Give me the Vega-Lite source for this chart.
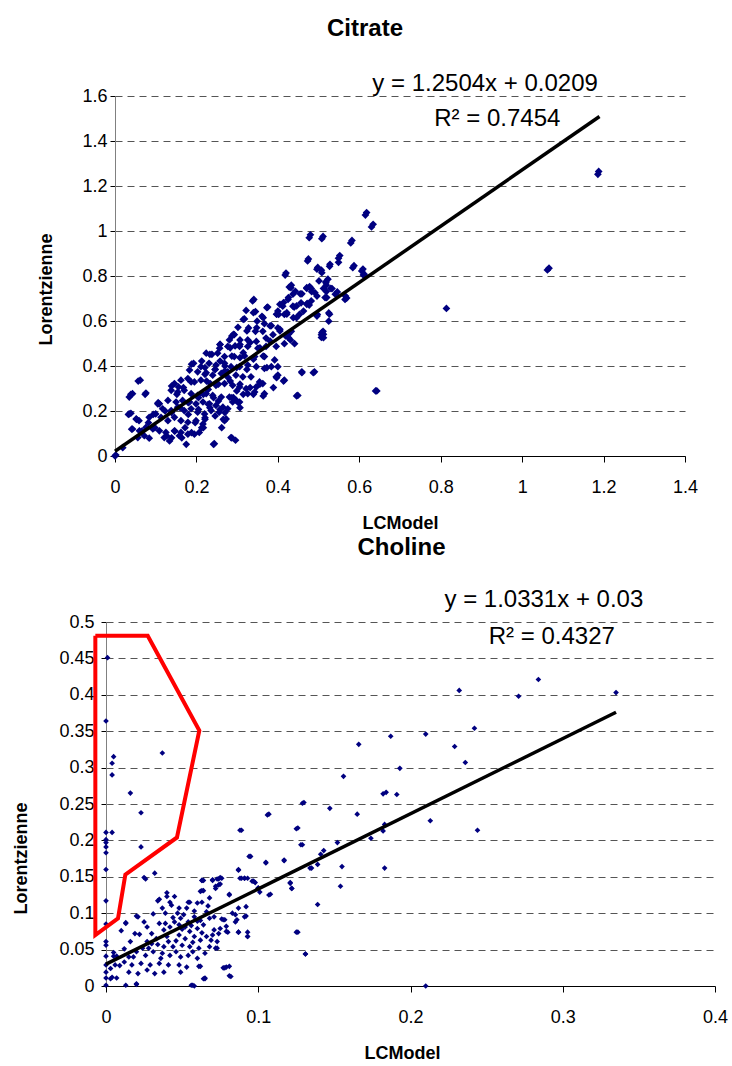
{
"$schema": "https://vega.github.io/schema/vega-lite/v6.json",
"padding": {"left": 10, "top": 17, "right": 5, "bottom": 0},
"background": "white",
"datasets": {
"citrate": [
{"x":0.618,"y":1.082},{"x":0.634,"y":1.030},{"x":0.480,"y":0.983},{"x":0.511,"y":0.976},{"x":0.582,"y":0.958},{"x":0.475,"y":0.876},{"x":0.420,"y":0.813},{"x":0.552,"y":0.891},{"x":0.549,"y":0.861},{"x":0.528,"y":0.852},{"x":0.498,"y":0.838},{"x":0.507,"y":0.826},{"x":0.587,"y":0.846},{"x":0.609,"y":0.831},{"x":0.612,"y":0.808},{"x":0.478,"y":0.753},{"x":0.482,"y":0.744},{"x":0.519,"y":0.759},{"x":0.533,"y":0.744},{"x":0.546,"y":0.729},{"x":0.519,"y":0.731},{"x":0.566,"y":0.711},{"x":0.569,"y":0.702},{"x":0.501,"y":0.778},{"x":0.523,"y":0.786},{"x":0.472,"y":0.678},{"x":0.482,"y":0.689},{"x":0.433,"y":0.759},{"x":0.443,"y":0.732},{"x":0.425,"y":0.696},{"x":0.437,"y":0.666},{"x":0.412,"y":0.666},{"x":0.457,"y":0.681},{"x":0.400,"y":0.644},{"x":0.416,"y":0.629},{"x":0.453,"y":0.629},{"x":0.525,"y":0.636},{"x":0.497,"y":0.629},{"x":0.525,"y":0.599},{"x":0.507,"y":0.539},{"x":0.511,"y":0.554},{"x":0.507,"y":0.527},{"x":0.341,"y":0.696},{"x":0.375,"y":0.662},{"x":0.322,"y":0.647},{"x":0.345,"y":0.642},{"x":0.402,"y":0.629},{"x":0.384,"y":0.579},{"x":0.361,"y":0.621},{"x":0.318,"y":0.609},{"x":0.349,"y":0.599},{"x":0.367,"y":0.588},{"x":0.302,"y":0.572},{"x":0.328,"y":0.569},{"x":0.345,"y":0.554},{"x":0.363,"y":0.554},{"x":0.400,"y":0.569},{"x":0.433,"y":0.554},{"x":0.419,"y":0.534},{"x":0.431,"y":0.516},{"x":0.416,"y":0.499},{"x":0.441,"y":0.499},{"x":0.388,"y":0.539},{"x":0.371,"y":0.524},{"x":0.293,"y":0.539},{"x":0.281,"y":0.516},{"x":0.307,"y":0.516},{"x":0.326,"y":0.516},{"x":0.347,"y":0.509},{"x":0.257,"y":0.479},{"x":0.277,"y":0.487},{"x":0.306,"y":0.487},{"x":0.326,"y":0.487},{"x":0.351,"y":0.479},{"x":0.371,"y":0.487},{"x":0.396,"y":0.487},{"x":0.224,"y":0.457},{"x":0.252,"y":0.457},{"x":0.269,"y":0.442},{"x":0.293,"y":0.442},{"x":0.318,"y":0.445},{"x":0.343,"y":0.442},{"x":0.367,"y":0.442},{"x":0.392,"y":0.427},{"x":0.384,"y":0.397},{"x":0.400,"y":0.397},{"x":0.396,"y":0.352},{"x":0.400,"y":0.359},{"x":0.416,"y":0.337},{"x":0.459,"y":0.374},{"x":0.490,"y":0.374},{"x":0.449,"y":0.269},{"x":0.643,"y":0.289},{"x":0.193,"y":0.412},{"x":0.211,"y":0.397},{"x":0.231,"y":0.412},{"x":0.248,"y":0.404},{"x":0.269,"y":0.412},{"x":0.285,"y":0.397},{"x":0.306,"y":0.397},{"x":0.326,"y":0.404},{"x":0.347,"y":0.397},{"x":0.367,"y":0.389},{"x":0.183,"y":0.382},{"x":0.203,"y":0.374},{"x":0.224,"y":0.370},{"x":0.240,"y":0.359},{"x":0.261,"y":0.367},{"x":0.277,"y":0.374},{"x":0.297,"y":0.359},{"x":0.314,"y":0.352},{"x":0.334,"y":0.352},{"x":0.355,"y":0.329},{"x":0.347,"y":0.307},{"x":0.363,"y":0.322},{"x":0.146,"y":0.322},{"x":0.162,"y":0.337},{"x":0.179,"y":0.344},{"x":0.195,"y":0.329},{"x":0.211,"y":0.337},{"x":0.234,"y":0.322},{"x":0.248,"y":0.314},{"x":0.269,"y":0.322},{"x":0.289,"y":0.314},{"x":0.306,"y":0.307},{"x":0.322,"y":0.299},{"x":0.326,"y":0.277},{"x":0.343,"y":0.284},{"x":0.367,"y":0.277},{"x":0.138,"y":0.292},{"x":0.154,"y":0.284},{"x":0.170,"y":0.292},{"x":0.187,"y":0.277},{"x":0.203,"y":0.269},{"x":0.224,"y":0.277},{"x":0.240,"y":0.269},{"x":0.261,"y":0.262},{"x":0.281,"y":0.262},{"x":0.298,"y":0.247},{"x":0.289,"y":0.240},{"x":0.306,"y":0.240},{"x":0.130,"y":0.247},{"x":0.150,"y":0.240},{"x":0.166,"y":0.247},{"x":0.183,"y":0.240},{"x":0.199,"y":0.232},{"x":0.216,"y":0.240},{"x":0.232,"y":0.232},{"x":0.248,"y":0.225},{"x":0.265,"y":0.217},{"x":0.277,"y":0.210},{"x":0.105,"y":0.232},{"x":0.117,"y":0.210},{"x":0.138,"y":0.202},{"x":0.154,"y":0.217},{"x":0.170,"y":0.202},{"x":0.187,"y":0.210},{"x":0.203,"y":0.195},{"x":0.220,"y":0.187},{"x":0.236,"y":0.202},{"x":0.256,"y":0.195},{"x":0.273,"y":0.165},{"x":0.269,"y":0.157},{"x":0.035,"y":0.187},{"x":0.052,"y":0.165},{"x":0.059,"y":0.157},{"x":0.084,"y":0.172},{"x":0.100,"y":0.187},{"x":0.113,"y":0.172},{"x":0.130,"y":0.157},{"x":0.146,"y":0.172},{"x":0.162,"y":0.157},{"x":0.179,"y":0.150},{"x":0.199,"y":0.157},{"x":0.216,"y":0.142},{"x":0.043,"y":0.120},{"x":0.060,"y":0.112},{"x":0.076,"y":0.127},{"x":0.093,"y":0.120},{"x":0.109,"y":0.112},{"x":0.125,"y":0.105},{"x":0.146,"y":0.112},{"x":0.162,"y":0.105},{"x":0.179,"y":0.097},{"x":0.195,"y":0.097},{"x":0.207,"y":0.105},{"x":0.056,"y":0.082},{"x":0.072,"y":0.090},{"x":0.084,"y":0.079},{"x":0.121,"y":0.082},{"x":0.134,"y":0.067},{"x":0.158,"y":0.090},{"x":0.175,"y":0.052},{"x":0.244,"y":0.055},{"x":0.285,"y":0.082},{"x":0.296,"y":0.070},{"x":0.019,"y":0.037},{"x":0.002,"y":0.004},{"x":0.0,"y":0.0},{"x":0.035,"y":0.262},{"x":0.043,"y":0.277},{"x":0.039,"y":0.190},{"x":0.062,"y":0.337},{"x":0.076,"y":0.280},{"x":0.109,"y":0.232},{"x":0.156,"y":0.307},{"x":0.187,"y":0.329},
{"x":1.186,"y":1.252},{"x":1.188,"y":1.265},{"x":1.062,"y":0.827},{"x":1.066,"y":0.835},{"x":0.814,"y":0.656},{"x":0.640,"y":0.289},{"x":0.615,"y":1.071},{"x":0.630,"y":1.018},{"x":0.579,"y":0.947},
{"x":0.477,"y":0.970},{"x":0.508,"y":0.966},{"x":0.473,"y":0.867},{"x":0.549,"y":0.879},{"x":0.527,"y":0.843},{"x":0.496,"y":0.830},{"x":0.508,"y":0.815},{"x":0.584,"y":0.837},{"x":0.606,"y":0.822},{"x":0.610,"y":0.804},{"x":0.418,"y":0.804},{"x":0.518,"y":0.775},{"x":0.432,"y":0.748},{"x":0.471,"y":0.745},{"x":0.512,"y":0.745},{"x":0.530,"y":0.745},{"x":0.483,"y":0.730},{"x":0.459,"y":0.721},{"x":0.496,"y":0.711},{"x":0.516,"y":0.704},{"x":0.541,"y":0.719},{"x":0.565,"y":0.696},{"x":0.437,"y":0.719},{"x":0.414,"y":0.682},{"x":0.440,"y":0.662},{"x":0.477,"y":0.671},{"x":0.463,"y":0.644},{"x":0.397,"y":0.630},{"x":0.422,"y":0.630},{"x":0.446,"y":0.615},{"x":0.496,"y":0.622},{"x":0.527,"y":0.630},{"x":0.405,"y":0.563},{"x":0.426,"y":0.541},{"x":0.508,"y":0.548},{"x":0.512,"y":0.526},
{"x":0.057,"y":0.333},{"x":0.039,"y":0.274},{"x":0.074,"y":0.274},{"x":0.106,"y":0.237},{"x":0.033,"y":0.185},{"x":0.053,"y":0.163},{"x":0.041,"y":0.119},{"x":0.066,"y":0.111},{"x":0.082,"y":0.148},{"x":0.098,"y":0.126},{"x":0.094,"y":0.185},{"x":0.123,"y":0.200},{"x":0.139,"y":0.311},{"x":0.152,"y":0.274},{"x":0.168,"y":0.304},{"x":0.188,"y":0.408},{"x":0.213,"y":0.422},{"x":0.238,"y":0.452},{"x":0.258,"y":0.496},{"x":0.287,"y":0.533},{"x":0.295,"y":0.489},{"x":0.307,"y":0.437},{"x":0.221,"y":0.363},{"x":0.246,"y":0.385},{"x":0.270,"y":0.400},{"x":0.278,"y":0.348},{"x":0.254,"y":0.319},{"x":0.229,"y":0.296},{"x":0.205,"y":0.259},{"x":0.180,"y":0.237},{"x":0.160,"y":0.215},{"x":0.139,"y":0.193},{"x":0.180,"y":0.185},{"x":0.205,"y":0.207},{"x":0.229,"y":0.230},{"x":0.254,"y":0.244},{"x":0.287,"y":0.259},{"x":0.270,"y":0.193},{"x":0.246,"y":0.178},{"x":0.221,"y":0.163},{"x":0.197,"y":0.148},{"x":0.172,"y":0.126},{"x":0.147,"y":0.111},{"x":0.127,"y":0.089},{"x":0.164,"y":0.081},{"x":0.188,"y":0.104},{"x":0.213,"y":0.126},{"x":0.242,"y":0.052},{"x":0.287,"y":0.081},{"x":0.299,"y":0.289},{"x":0.307,"y":0.215},{"x":0.262,"y":0.126},{"x":0.139,"y":0.081},
{"x":0.428,"y":0.751},{"x":0.471,"y":0.748},{"x":0.491,"y":0.726},{"x":0.518,"y":0.770},{"x":0.455,"y":0.721},{"x":0.426,"y":0.704},{"x":0.338,"y":0.689},{"x":0.373,"y":0.659},{"x":0.405,"y":0.674},{"x":0.446,"y":0.667},{"x":0.471,"y":0.674},{"x":0.520,"y":0.704},{"x":0.340,"y":0.637},{"x":0.315,"y":0.607},{"x":0.364,"y":0.615},{"x":0.397,"y":0.630},{"x":0.422,"y":0.637},{"x":0.438,"y":0.615},{"x":0.291,"y":0.541},{"x":0.324,"y":0.556},{"x":0.348,"y":0.570},{"x":0.381,"y":0.578},{"x":0.405,"y":0.556},{"x":0.426,"y":0.526},{"x":0.512,"y":0.541},{"x":0.258,"y":0.496},{"x":0.283,"y":0.481},{"x":0.307,"y":0.496},{"x":0.332,"y":0.504},{"x":0.356,"y":0.481},{"x":0.381,"y":0.511},{"x":0.233,"y":0.452},{"x":0.258,"y":0.422},{"x":0.287,"y":0.444},{"x":0.315,"y":0.459},{"x":0.340,"y":0.430},{"x":0.364,"y":0.444},{"x":0.221,"y":0.393},{"x":0.246,"y":0.385},{"x":0.270,"y":0.378},{"x":0.299,"y":0.393},{"x":0.324,"y":0.385},{"x":0.373,"y":0.393},{"x":0.397,"y":0.348},{"x":0.414,"y":0.333},{"x":0.389,"y":0.304},{"x":0.459,"y":0.370},{"x":0.487,"y":0.370},{"x":0.446,"y":0.267},{"x":0.225,"y":0.333},{"x":0.250,"y":0.319},{"x":0.283,"y":0.333},{"x":0.307,"y":0.319},{"x":0.332,"y":0.304},{"x":0.356,"y":0.319},{"x":0.217,"y":0.274},{"x":0.242,"y":0.259},{"x":0.291,"y":0.259},{"x":0.315,"y":0.274},{"x":0.340,"y":0.274},{"x":0.364,"y":0.267},{"x":0.303,"y":0.237},{"x":0.233,"y":0.215},{"x":0.258,"y":0.207},{"x":0.221,"y":0.170},{"x":0.266,"y":0.163},{"x":0.217,"y":0.126}
],
"citrateTrend": [{"x":0,"y":0.0209},{"x":1.19,"y":1.5089}],
"citrateEq": [{"x":0.909,"y":1.653,"label":"y = 1.2504x + 0.0209"},{"x":0.939,"y":1.498,"label":"R² = 0.7454"}],
"choline": [
{"x":0.001,"y":0.451},{"x":0.0,"y":0.364},{"x":0.005,"y":0.315},{"x":0.004,"y":0.306},{"x":0.004,"y":0.290},{"x":0.037,"y":0.320},{"x":0.016,"y":0.265},{"x":0.023,"y":0.238},{"x":0.0,"y":0.211},{"x":0.004,"y":0.211},{"x":0.0,"y":0.201},{"x":0.0,"y":0.197},{"x":0.0,"y":0.191},{"x":0.0,"y":0.183},{"x":0.023,"y":0.191},{"x":0.0,"y":0.160},
{"x":0,"y":0.117},{"x":0,"y":0.085},{"x":0,"y":0.061},{"x":0,"y":0.056},{"x":0,"y":0.041},{"x":0,"y":0.029},{"x":0,"y":0.019},{"x":0,"y":0.011},{"x":0,"y":0.001},{"x":0.026,"y":0.147},{"x":0.032,"y":0.155},{"x":0.013,"y":0.086},{"x":0.010,"y":0.076},{"x":0.005,"y":0.046},{"x":0.005,"y":0.041},{"x":0.006,"y":0.029},{"x":0.003,"y":0.010},{"x":0.013,"y":0.001},{"x":0.020,"y":0.002},{"x":0.056,"y":0.001},{"x":0.021,"y":0.095},{"x":0.035,"y":0.119},{"x":0.040,"y":0.123},{"x":0.045,"y":0.123},{"x":0.054,"y":0.115},{"x":0.063,"y":0.145},{"x":0.063,"y":0.131},{"x":0.070,"y":0.146},{"x":0.074,"y":0.147},{"x":0.075,"y":0.140},{"x":0.081,"y":0.125},{"x":0.087,"y":0.160},{"x":0.088,"y":0.148},{"x":0.091,"y":0.148},{"x":0.088,"y":0.214},{"x":0.094,"y":0.178},{"x":0.106,"y":0.235},{"x":0.117,"y":0.172},{"x":0.105,"y":0.169},{"x":0.096,"y":0.144},{"x":0.100,"y":0.134},{"x":0.107,"y":0.125},{"x":0.121,"y":0.141},{"x":0.122,"y":0.134},{"x":0.125,"y":0.216},{"x":0.128,"y":0.194},{"x":0.129,"y":0.251},{"x":0.125,"y":0.074},{"x":0.131,"y":0.044},{"x":0.134,"y":0.162},{"x":0.079,"y":0.026},{"x":0.081,"y":0.014},{"x":0.065,"y":0.010},{"x":0.061,"y":0.027},{"x":0.087,"y":0.074},{"x":0.093,"y":0.074},{"x":0.093,"y":0.068},{"x":0.091,"y":0.095},{"x":0.085,"y":0.088},{"x":0.079,"y":0.075},{"x":0.072,"y":0.052},
{"x":0.232,"y":0.406},{"x":0.271,"y":0.398},{"x":0.284,"y":0.421},{"x":0.335,"y":0.403},{"x":0.242,"y":0.354},{"x":0.210,"y":0.346},{"x":0.187,"y":0.343},{"x":0.229,"y":0.329},{"x":0.166,"y":0.332},{"x":0.236,"y":0.307},{"x":0.193,"y":0.299},{"x":0.156,"y":0.288},{"x":0.182,"y":0.264},{"x":0.184,"y":0.266},{"x":0.191,"y":0.263},{"x":0.130,"y":0.252},{"x":0.147,"y":0.244},{"x":0.107,"y":0.236},{"x":0.165,"y":0.236},{"x":0.213,"y":0.227},{"x":0.244,"y":0.214},{"x":0.089,"y":0.214},{"x":0.126,"y":0.217},{"x":0.183,"y":0.222},{"x":0.182,"y":0.213},{"x":0.174,"y":0.203},{"x":0.129,"y":0.194},{"x":0.152,"y":0.197},{"x":0.143,"y":0.186},{"x":0.141,"y":0.181},{"x":0.095,"y":0.178},{"x":0.117,"y":0.173},{"x":0.105,"y":0.170},{"x":0.139,"y":0.167},{"x":0.135,"y":0.162},{"x":0.155,"y":0.164},{"x":0.183,"y":0.162},{"x":0.087,"y":0.159},{"x":0.154,"y":0.137},{"x":0.121,"y":0.142},{"x":0.122,"y":0.134},{"x":0.108,"y":0.126},{"x":0.139,"y":0.112},{"x":0.126,"y":0.074},{"x":0.131,"y":0.044},{"x":0.210,"y":0.0},{"x":0.082,"y":0.013},{"x":0.078,"y":0.025},{"x":0.081,"y":0.027},{"x":0.065,"y":0.011},{"x":0.062,"y":0.027},{"x":0.058,"y":0.0},{"x":0.089,"y":0.148},{"x":0.091,"y":0.148},{"x":0.093,"y":0.148},{"x":0.097,"y":0.144},{"x":0.100,"y":0.135},{"x":0.101,"y":0.129},{"x":0.098,"y":0.142},{"x":0.081,"y":0.126},{"x":0.092,"y":0.109},{"x":0.092,"y":0.096},{"x":0.087,"y":0.107},{"x":0.086,"y":0.091},{"x":0.085,"y":0.098},{"x":0.080,"y":0.074},{"x":0.087,"y":0.074},{"x":0.093,"y":0.068},{"x":0.073,"y":0.052},{"x":0.064,"y":0.145},{"x":0.064,"y":0.131},{"x":0.070,"y":0.145},{"x":0.073,"y":0.147},{"x":0.076,"y":0.148},{"x":0.074,"y":0.139},{"x":0.072,"y":0.134},{"x":0.078,"y":0.091},{"x":0.076,"y":0.092},{"x":0.055,"y":0.115},{"x":0.063,"y":0.115},
{"x":0.025,"y":0.149},{"x":0.063,"y":0.145},{"x":0.075,"y":0.149},{"x":0.072,"y":0.137},{"x":0.040,"y":0.128},{"x":0.034,"y":0.117},{"x":0.060,"y":0.114},{"x":0.068,"y":0.121},{"x":0.020,"y":0.096},{"x":0.039,"y":0.100},{"x":0.044,"y":0.094},{"x":0.051,"y":0.098},{"x":0.058,"y":0.095},{"x":0.066,"y":0.102},{"x":0.071,"y":0.095},{"x":0.077,"y":0.091},{"x":0.013,"y":0.087},{"x":0.030,"y":0.072},{"x":0.022,"y":0.071},{"x":0.016,"y":0.061},{"x":0.027,"y":0.061},{"x":0.033,"y":0.065},{"x":0.038,"y":0.077},{"x":0.042,"y":0.081},{"x":0.048,"y":0.084},{"x":0.052,"y":0.081},{"x":0.055,"y":0.075},{"x":0.060,"y":0.079},{"x":0.064,"y":0.084},{"x":0.048,"y":0.070},{"x":0.052,"y":0.065},{"x":0.058,"y":0.068},{"x":0.062,"y":0.063},{"x":0.066,"y":0.068},{"x":0.041,"y":0.061},{"x":0.044,"y":0.054},{"x":0.050,"y":0.056},{"x":0.055,"y":0.054},{"x":0.061,"y":0.052},{"x":0.068,"y":0.054},{"x":0.073,"y":0.061},{"x":0.020,"y":0.047},{"x":0.026,"y":0.042},{"x":0.031,"y":0.047},{"x":0.037,"y":0.045},{"x":0.042,"y":0.042},{"x":0.049,"y":0.040},{"x":0.054,"y":0.042},{"x":0.060,"y":0.038},{"x":0.012,"y":0.033},{"x":0.017,"y":0.029},{"x":0.023,"y":0.031},{"x":0.029,"y":0.029},{"x":0.035,"y":0.031},{"x":0.041,"y":0.029},{"x":0.048,"y":0.029},{"x":0.053,"y":0.026},{"x":0.015,"y":0.019},{"x":0.021,"y":0.017},{"x":0.027,"y":0.022},{"x":0.032,"y":0.017},{"x":0.038,"y":0.019},{"x":0.049,"y":0.019},{"x":0.064,"y":0.010},{"x":0.077,"y":0.025},{"x":0.007,"y":0.011},{"x":0.020,"y":0.003},{"x":0.057,"y":0.001},{"x":0.003,"y":0.024},{"x":0.004,"y":0.012},{"x":0.015,"y":0.040},{"x":0.007,"y":0.041},{"x":0.028,"y":0.052},{"x":0.038,"y":0.054},{"x":0.071,"y":0.077},{"x":0.075,"y":0.079},{"x":0.074,"y":0.072},{"x":0.062,"y":0.130},{"x":0.048,"y":0.107},{"x":0.053,"y":0.107},{"x":0.043,"y":0.111},{"x":0.037,"y":0.107},{"x":0.027,"y":0.081},{"x":0.019,"y":0.072},{"x":0.035,"y":0.086},{"x":0.054,"y":0.088},{"x":0.060,"y":0.089},{"x":0.049,"y":0.093},
{"x":0.045,"y":0.088},{"x":0.050,"y":0.078},{"x":0.056,"y":0.083},{"x":0.062,"y":0.090},{"x":0.068,"y":0.093},{"x":0.057,"y":0.060},{"x":0.063,"y":0.073},{"x":0.069,"y":0.063},{"x":0.046,"y":0.062},{"x":0.040,"y":0.068},{"x":0.034,"y":0.057},{"x":0.036,"y":0.038},{"x":0.046,"y":0.047},{"x":0.057,"y":0.047},{"x":0.065,"y":0.045},{"x":0.070,"y":0.070},{"x":0.079,"y":0.082},{"x":0.083,"y":0.100},{"x":0.067,"y":0.110},{"x":0.058,"y":0.103},{"x":0.047,"y":0.100},{"x":0.042,"y":0.115},{"x":0.031,"y":0.099},{"x":0.025,"y":0.088},{"x":0.030,"y":0.058},{"x":0.024,"y":0.052},{"x":0.018,"y":0.040},{"x":0.009,"y":0.028},{"x":0.012,"y":0.051},{"x":0.039,"y":0.086}
],
"cholineTrend": [{"x":0,"y":0.03},{"x":0.335,"y":0.376}],
"cholineEq": [{"x":0.2876,"y":0.530,"label":"y = 1.0331x + 0.03"},{"x":0.2928,"y":0.479,"label":"R² = 0.4327"}],
"polygon": [{"o":1,"x":-0.007,"y":0.481},{"o":2,"x":0.0274,"y":0.481},{"o":3,"x":0.0613,"y":0.351},{"o":4,"x":0.0466,"y":0.204},{"o":5,"x":0.0127,"y":0.153},{"o":6,"x":0.0079,"y":0.093},{"o":7,"x":-0.007,"y":0.070},{"o":8,"x":-0.007,"y":0.481}]
},
"concat": [
{
"concat": [
{"width": 27, "height": 10, "data": {"values": []}, "mark": "point", "encoding": {}},
{
"width": 570, "height": 360,
"title": {"text": "Citrate", "offset": 31, "dx": -35},
"encoding": {
  "x": {"field": "x", "type": "quantitative", "scale": {"domain": [0, 1.4], "nice": false, "zero": false},
        "axis": {"values": [0,0.2,0.4,0.6,0.8,1,1.2,1.4], "format": "~g", "title": "LCModel", "grid": false, "tickSize": 6, "labelPadding": 16, "titlePadding": 18}},
  "y": {"field": "y", "type": "quantitative", "scale": {"domain": [0, 1.6], "nice": false, "zero": false},
        "axis": {"values": [0,0.2,0.4,0.6,0.8,1,1.2,1.4,1.6], "format": "~g", "title": "Lorentzienne", "titleY": 193, "grid": true, "tickSize": 5, "labelPadding": 3, "titlePadding": 26, "domainColor": "#808080"}}
},
"layer": [
{"data": {"name": "citrate"},
 "mark": {"type": "point", "shape": "diamond", "filled": true, "color": "#000080", "size": 60, "opacity": 1}},
{"data": {"name": "citrateTrend"},
 "mark": {"type": "line", "color": "#000", "strokeWidth": 3.5}},
{"data": {"name": "citrateEq"},
 "mark": {"type": "text", "fontSize": 24, "align": "center", "baseline": "middle", "color": "#000"},
 "encoding": {"text": {"field": "label"}}}
]
}
],
"columns": 2, "spacing": 0, "align": "none"
},
{
"concat": [
{"width": 2, "height": 10, "data": {"values": []}, "mark": "point", "encoding": {}},
{
"width": 609, "height": 364,
"title": {"text": "Choline", "offset": 28, "dx": -9},
"encoding": {
  "x": {"field": "x", "type": "quantitative", "scale": {"domain": [0, 0.4], "nice": false, "zero": false},
        "axis": {"values": [0,0.1,0.2,0.3,0.4], "format": "~g", "title": "LCModel", "titleX": 296, "grid": false, "tickSize": 6, "labelPadding": 16, "titlePadding": 18}},
  "y": {"field": "y", "type": "quantitative", "scale": {"domain": [0, 0.5], "nice": false, "zero": false},
        "axis": {"values": [0,0.05,0.1,0.15,0.2,0.25,0.3,0.35,0.4,0.45,0.5], "format": "~g", "title": "Lorentzienne", "titleY": 236, "grid": true, "tickSize": 5, "labelPadding": 7, "titlePadding": 28, "domainColor": "#808080"}}
},
"layer": [
{"data": {"name": "choline"},
 "mark": {"type": "point", "shape": "diamond", "filled": true, "color": "#000080", "size": 32, "opacity": 1}},
{"data": {"name": "cholineTrend"},
 "mark": {"type": "line", "color": "#000", "strokeWidth": 3.5}},
{"data": {"name": "polygon"},
 "mark": {"type": "line", "color": "#ff0000", "strokeWidth": 4, "clip": false},
 "encoding": {"order": {"field": "o", "type": "quantitative"}}},
{"data": {"name": "cholineEq"},
 "mark": {"type": "text", "fontSize": 24, "align": "center", "baseline": "middle", "color": "#000"},
 "encoding": {"text": {"field": "label"}}}
]
}
],
"columns": 2, "spacing": 0, "align": "none"
}
],
"columns": 1,
"spacing": 4,
"config": {
 "font": "Liberation Sans",
 "view": {"stroke": null},
 "axis": {"labelColor": "#000", "titleColor": "#000", "tickColor": "#000", "domainColor": "#000", "labelFontSize": 18, "titleFontSize": 18, "titleFontWeight": "bold", "labelFlush": false, "labelOverlap": false, "gridDash": [7, 5], "gridColor": "#555", "gridWidth": 1, "gridOpacity": 1, "domainWidth": 1, "tickWidth": 1},
 "title": {"fontSize": 24, "fontWeight": "bold", "color": "#000"}
}
}
